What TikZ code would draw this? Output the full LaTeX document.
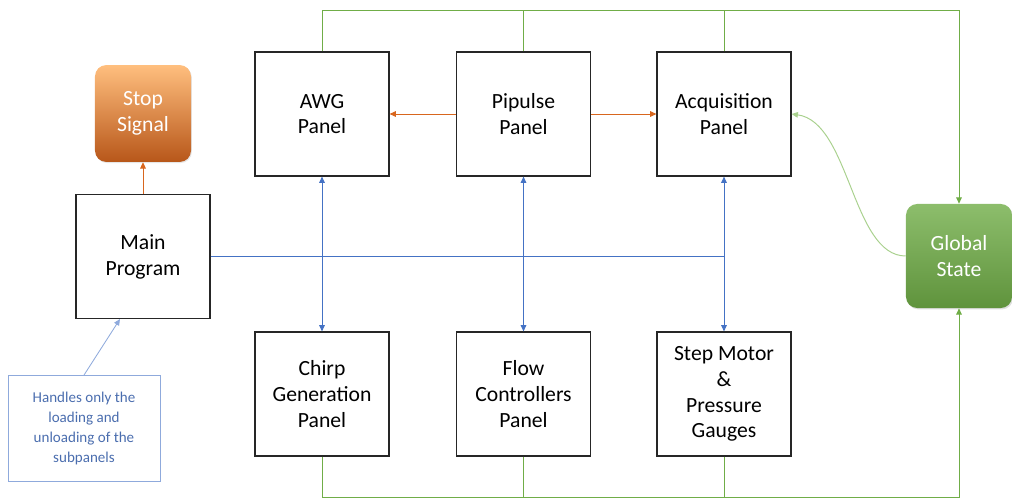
\documentclass[tikz,border=0pt]{standalone}
\usepackage{fontspec}
\setmainfont{Carlito}
\usepackage{xcolor}
\usetikzlibrary{arrows.meta,shadows}
\definecolor{busgreen}{HTML}{70AD47}
\definecolor{lightgreen}{HTML}{A9D18E}
\definecolor{ctrlblue}{HTML}{4472C4}
\definecolor{noteblue}{HTML}{8FAADC}
\definecolor{notetext}{HTML}{4A6DAE}
\definecolor{sigorange}{HTML}{D8661E}

\begin{document}
\begin{tikzpicture}[x=0.025cm,y=-0.025cm,
  panel/.style={draw=black!85,line width=0.8pt,minimum width=3.35cm,minimum height=3.1cm,
    align=center,font=\fontsize{15.4}{18.4}\selectfont},
  signal/.style={rounded corners=8pt,minimum width=2.4cm,minimum height=2.42cm,align=center,
    top color=orange!45!white!90!orange,bottom color=sigorange!85!black,text=white,
    font=\fontsize{15.4}{18.4}\selectfont,drop shadow={opacity=0.2,shadow xshift=0.6pt,shadow yshift=-0.8pt}},
  state/.style={rounded corners=8pt,minimum width=2.65cm,minimum height=2.6cm,align=center,
    top color=busgreen!80!white,bottom color=busgreen!85!black,text=white,
    font=\fontsize{15.4}{18.4}\selectfont,drop shadow={opacity=0.25,shadow xshift=0.8pt,shadow yshift=-1pt}},
  note/.style={draw=noteblue,line width=0.6pt,minimum width=3.8cm,minimum height=2.65cm,align=center,
    text=notetext,font=\fontsize{10.7}{14.2}\selectfont},
  bus/.style={draw=busgreen,line width=0.7pt},
  ctrl/.style={draw=ctrlblue,line width=0.7pt},
  sig/.style={draw=sigorange,line width=0.7pt,-{Triangle[length=4.5pt,width=4pt]}},
  tip/.style={-{Triangle[length=4.5pt,width=4pt]}}]
\useasboundingbox (0,0) rectangle (1012,500);

\node[panel] (main) at (143,256.5) {Main\\Program};
\node[signal] (stop) at (143,113.5) {Stop\\Signal};
\node[panel] (awg) at (322,114) {AWG\\Panel};
\node[panel] (pip) at (523.5,114) {Pipulse\\Panel};
\node[panel] (acq) at (724,114) {Acquisition\\Panel};
\node[panel] (chirp) at (322,394) {Chirp\\Generation\\Panel};
\node[panel] (flow) at (523.5,394) {Flow\\Controllers\\Panel};
\node[panel] (step) at (724,394) {Step Motor\\\&\\Pressure\\Gauges};
\node[state] (glob) at (959,256) {Global\\State};
\node[note] (note) at (84,428.5) {Handles only the\\loading and\\unloading of the\\subpanels};

\coordinate (topbus) at (959,10);
\coordinate (botbus) at (959,497);
\coordinate (mainfoot) at (120,319);

% green state buses
\draw[bus,tip] (awg.north) |- (topbus) -- (glob.north);
\draw[bus] (pip.north) -- (pip.north |- topbus);
\draw[bus] (acq.north) -- (acq.north |- topbus);
\draw[bus,tip] (chirp.south) |- (botbus) -- (glob.south);
\draw[bus] (flow.south) -- (flow.south |- botbus);
\draw[bus] (step.south) -- (step.south |- botbus);
\draw[draw=lightgreen,line width=0.7pt,tip] (glob.west) .. controls (852,256) and (850,122) .. (acq.east);

% orange signals
\draw[sig] (main.north) -- (stop.south);
\draw[sig] (pip.west) -- (awg.east);
\draw[sig] (pip.east) -- (acq.west);

% blue control lines
\draw[ctrl] (main.east) -- (main.east -| acq.south);
\draw[ctrl,{Triangle[length=4.5pt,width=4pt]}-{Triangle[length=4.5pt,width=4pt]}] (awg.south) -- (chirp.north);
\draw[ctrl,{Triangle[length=4.5pt,width=4pt]}-{Triangle[length=4.5pt,width=4pt]}] (pip.south) -- (flow.north);
\draw[ctrl,{Triangle[length=4.5pt,width=4pt]}-{Triangle[length=4.5pt,width=4pt]}] (acq.south) -- (step.north);

\draw[draw=noteblue,line width=0.6pt,tip] (note.north) -- (mainfoot);
\end{tikzpicture}
\end{document}
